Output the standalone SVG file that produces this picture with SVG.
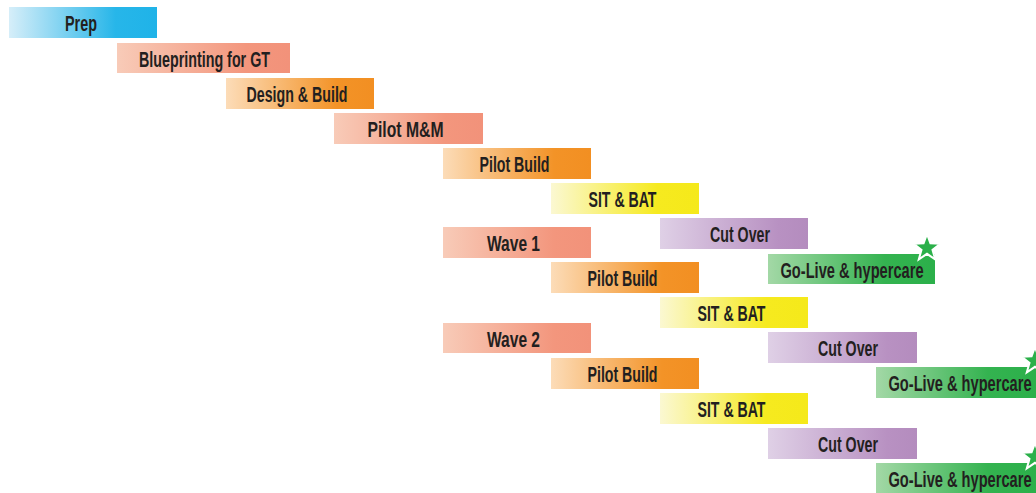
<svg xmlns="http://www.w3.org/2000/svg" width="1036" height="493" viewBox="0 0 1036 493">
  <defs>
    <linearGradient id="g-blue" x1="0" y1="0" x2="1" y2="0">
      <stop offset="0" stop-color="#d6eef9"/>
      <stop offset="0.72" stop-color="#27b6e9"/>
      <stop offset="1" stop-color="#1fb3e8"/>
    </linearGradient>
    <linearGradient id="g-salmon" x1="0" y1="0" x2="1" y2="0">
      <stop offset="0" stop-color="#f8cbb8"/>
      <stop offset="0.75" stop-color="#f3967d"/>
      <stop offset="1" stop-color="#f2927a"/>
    </linearGradient>
    <linearGradient id="g-orange" x1="0" y1="0" x2="1" y2="0">
      <stop offset="0" stop-color="#fcdcb8"/>
      <stop offset="0.75" stop-color="#f39327"/>
      <stop offset="1" stop-color="#f28f22"/>
    </linearGradient>
    <linearGradient id="g-yellow" x1="0" y1="0" x2="1" y2="0">
      <stop offset="0" stop-color="#fbf8d2"/>
      <stop offset="0.72" stop-color="#f6ea1f"/>
      <stop offset="1" stop-color="#f5e91a"/>
    </linearGradient>
    <linearGradient id="g-purple" x1="0" y1="0" x2="1" y2="0">
      <stop offset="0" stop-color="#dfd0e6"/>
      <stop offset="0.8" stop-color="#b891c2"/>
      <stop offset="1" stop-color="#b48cbe"/>
    </linearGradient>
    <linearGradient id="g-green" x1="0" y1="0" x2="1" y2="0">
      <stop offset="0" stop-color="#a3d8a6"/>
      <stop offset="0.7" stop-color="#34b350"/>
      <stop offset="1" stop-color="#2bb04a"/>
    </linearGradient>
    <!-- five-point star, centred on the origin -->
    <polygon id="star" points="0,-14 3.4,-4.7 13.3,-4.3 5.5,1.8 8.2,11.3 0,5.8 -8.2,11.3 -5.5,1.8 -13.3,-4.3 -3.4,-4.7"/>
    <style>
      rect.bar { stroke: none; }
      .blue { fill: url(#g-blue); }
      .salmon { fill: url(#g-salmon); }
      .orange { fill: url(#g-orange); }
      .yellow { fill: url(#g-yellow); }
      .purple { fill: url(#g-purple); }
      .green { fill: url(#g-green); }
      text.lbl { font-family: "Liberation Sans Narrow", "Liberation Sans", "DejaVu Sans Condensed", sans-serif; font-weight: bold; font-size: 22px; fill: #231f20; text-anchor: middle; }
      use.star { fill: #2bb04a; stroke: #ffffff; stroke-width: 2; stroke-linejoin: miter; }
    </style>
  </defs>

  <g id="prep" transform="translate(9,7)">
    <rect class="bar blue" width="148" height="31"/>
    <text class="lbl" x="72" y="24" textLength="32" lengthAdjust="spacingAndGlyphs">Prep</text>
  </g>
  <g id="blueprinting" transform="translate(117,43)">
    <rect class="bar salmon" width="173" height="30"/>
    <text class="lbl" x="87.5" y="23.5" textLength="131" lengthAdjust="spacingAndGlyphs">Blueprinting for GT</text>
  </g>
  <g id="design-build" transform="translate(226,78)">
    <rect class="bar orange" width="148" height="31"/>
    <text class="lbl" x="71" y="24" textLength="101" lengthAdjust="spacingAndGlyphs">Design &amp; Build</text>
  </g>
  <g id="pilot-mm" transform="translate(334,113)">
    <rect class="bar salmon" width="149" height="31"/>
    <text class="lbl" x="71.5" y="24" textLength="76" lengthAdjust="spacingAndGlyphs">Pilot M&amp;M</text>
  </g>
  <g id="pilot-build" transform="translate(443,148)">
    <rect class="bar orange" width="148" height="31"/>
    <text class="lbl" x="71.5" y="24" textLength="70" lengthAdjust="spacingAndGlyphs">Pilot Build</text>
  </g>
  <g id="sit-bat" transform="translate(551,183)">
    <rect class="bar yellow" width="148" height="31"/>
    <text class="lbl" x="71.5" y="24" textLength="68" lengthAdjust="spacingAndGlyphs">SIT &amp; BAT</text>
  </g>
  <g id="cut-over" transform="translate(660,218)">
    <rect class="bar purple" width="148" height="31"/>
    <text class="lbl" x="80" y="24" textLength="60" lengthAdjust="spacingAndGlyphs">Cut Over</text>
  </g>
  <g id="go-live" transform="translate(768,254)">
    <rect class="bar green" width="167" height="30"/>
    <text class="lbl" transform="translate(84,24) scale(0.665,1)">Go-Live &amp; hypercare</text>
    <use class="star" href="#star" x="159" y="-6"/>
  </g>

  <g id="wave-1" transform="translate(443,227)">
    <rect class="bar salmon" width="148" height="31"/>
    <text class="lbl" x="70.5" y="24" textLength="53" lengthAdjust="spacingAndGlyphs">Wave 1</text>
  </g>
  <g id="w1-pilot-build" transform="translate(551,262)">
    <rect class="bar orange" width="148" height="31"/>
    <text class="lbl" x="71.5" y="24" textLength="70" lengthAdjust="spacingAndGlyphs">Pilot Build</text>
  </g>
  <g id="w1-sit-bat" transform="translate(660,297)">
    <rect class="bar yellow" width="148" height="31"/>
    <text class="lbl" x="71.5" y="24" textLength="68" lengthAdjust="spacingAndGlyphs">SIT &amp; BAT</text>
  </g>
  <g id="w1-cut-over" transform="translate(768,332)">
    <rect class="bar purple" width="149" height="31"/>
    <text class="lbl" x="80" y="24" textLength="60" lengthAdjust="spacingAndGlyphs">Cut Over</text>
  </g>
  <!-- bar runs to the right edge of the page -->
  <g id="w1-go-live" transform="translate(876,367)">
    <rect class="bar green" width="160" height="31"/>
    <text class="lbl" transform="translate(84,24) scale(0.665,1)">Go-Live &amp; hypercare</text>
    <use class="star" href="#star" x="159" y="-6"/>
  </g>

  <g id="wave-2" transform="translate(443,323)">
    <rect class="bar salmon" width="148" height="30"/>
    <text class="lbl" x="70.5" y="24" textLength="53" lengthAdjust="spacingAndGlyphs">Wave 2</text>
  </g>
  <g id="w2-pilot-build" transform="translate(551,358)">
    <rect class="bar orange" width="148" height="31"/>
    <text class="lbl" x="71.5" y="24" textLength="70" lengthAdjust="spacingAndGlyphs">Pilot Build</text>
  </g>
  <g id="w2-sit-bat" transform="translate(660,393)">
    <rect class="bar yellow" width="148" height="31"/>
    <text class="lbl" x="71.5" y="24" textLength="68" lengthAdjust="spacingAndGlyphs">SIT &amp; BAT</text>
  </g>
  <g id="w2-cut-over" transform="translate(768,428)">
    <rect class="bar purple" width="149" height="31"/>
    <text class="lbl" x="80" y="24" textLength="60" lengthAdjust="spacingAndGlyphs">Cut Over</text>
  </g>
  <g id="w2-go-live" transform="translate(876,463)">
    <rect class="bar green" width="160" height="30"/>
    <text class="lbl" transform="translate(84,24) scale(0.665,1)">Go-Live &amp; hypercare</text>
    <use class="star" href="#star" x="159" y="-6"/>
  </g>

  <!-- timeline bars only; no connectors between phases -->
  <g id="connectors"/>
</svg>
